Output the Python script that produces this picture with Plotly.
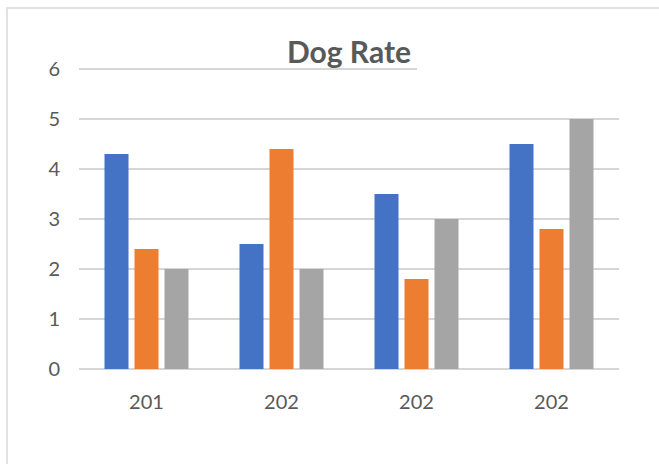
import plotly.graph_objects as go

categories = ["201", "202", "202", "202"]
series1 = [4.3, 2.5, 3.5, 4.5]
series2 = [2.4, 4.4, 1.8, 2.8]
series3 = [2.0, 2.0, 3.0, 5.0]
y_ticks = [0, 1, 2, 3, 4, 5, 6]
title_text = "Dog Rate"

colors = ["#4472C4", "#ED7D31", "#A5A5A5"]
positions = list(range(len(categories)))

fig = go.Figure()
for vals, col, name in zip([series1, series2, series3], colors, ["Series1", "Series2", "Series3"]):
    fig.add_trace(go.Bar(x=positions, y=vals, marker=dict(color=col, line=dict(width=0)), name=name))

W, H = 659, 464
L, R, T, B = 79, 40, 64, 95
fig.update_layout(
    width=W, height=H,
    margin=dict(l=L, r=R, t=T, b=B),
    paper_bgcolor="white", plot_bgcolor="white",
    barmode="group", bargap=1/3, bargroupgap=0.2,
    showlegend=False,
    font=dict(family="Lato", color="#595959", size=19),
    title=dict(text="<b>" + title_text + "</b>", x=0.5, xref="paper", xanchor="center",
               y=1 - 52 / H, yref="container", yanchor="middle",
               font=dict(family="Lato", size=30, color="#595959")),
)
fig.update_xaxes(
    tickmode="array", tickvals=positions, ticktext=categories,
    range=[-0.5, len(categories) - 0.5],
    showgrid=False, zeroline=False, showline=False, ticks="",
    ticklabelstandoff=19,
    tickfont=dict(family="Lato", size=20, color="#595959"),
)
fig.update_yaxes(
    range=[0, 6.1], tickmode="array", tickvals=y_ticks,
    showgrid=True, gridcolor="#d6d6d6", gridwidth=1.7,
    zeroline=True, zerolinecolor="#d6d6d6", zerolinewidth=1.7,
    showline=False, ticks="", ticklabelstandoff=18,
    tickfont=dict(family="Lato", size=20, color="#595959"),
)

pw = W - L - R
ph = H - T - B
def px_x(p):
    return (p - L) / pw
def px_y(p):
    return (H - B - p) / ph

# white mask over the right part of the top gridline
fig.add_shape(type="rect", xref="paper", yref="paper",
              x0=px_x(417), x1=px_x(625), y0=px_y(73), y1=px_y(64),
              fillcolor="white", line=dict(width=0), layer="above")
# chart border
fig.add_shape(type="rect", xref="paper", yref="paper",
              x0=px_x(7), x1=px_x(720), y0=px_y(520), y1=px_y(8),
              fillcolor="rgba(0,0,0,0)", line=dict(color="#d9d9d9", width=1.5), layer="above")

fig.write_html("out.html")
